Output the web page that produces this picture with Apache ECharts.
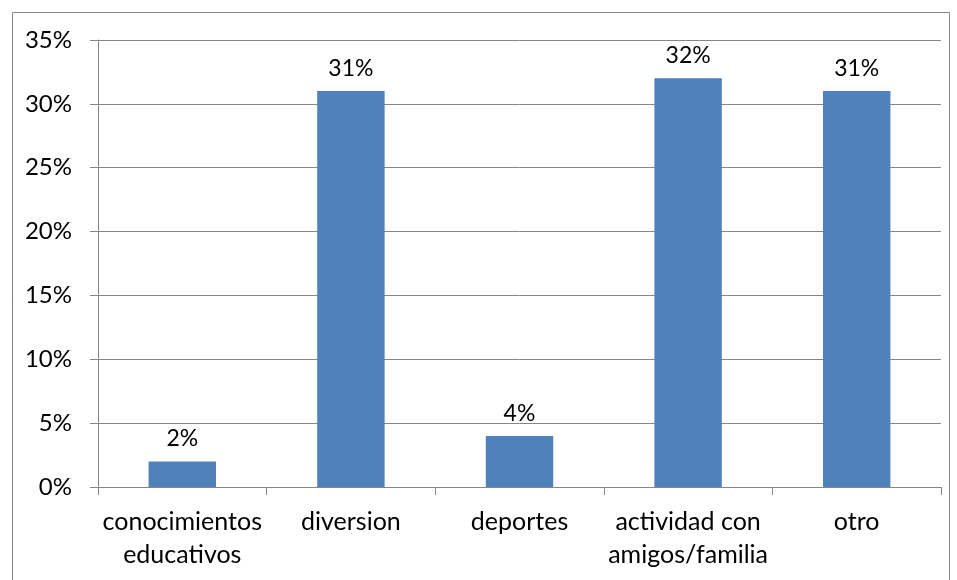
<!DOCTYPE html>
<html><head><meta charset="utf-8">
<script src="https://cdn.jsdelivr.net/npm/echarts@6/dist/echarts.min.js"></script>
<style>html,body{margin:0;padding:0;background:#fff}#c{width:957px;height:580px}</style>
</head><body><div id="c"></div>
<script>
const categories = ['conocimientos\neducativos', 'diversion', 'deportes', 'actividad con\namigos/familia', 'otro'];
const values = [2, 31, 4, 32, 31];
const yTicks = [0, 5, 10, 15, 20, 25, 30, 35];

const FONT = 'Lato';
const chart = echarts.init(document.getElementById('c'), null, {renderer: 'canvas'});
chart.setOption({
  animation: false,
  backgroundColor: '#fff',
  graphic: [{
    type: 'rect', left: 10, top: 10, silent: true,
    shape: {x: 0, y: 0, width: 937, height: 600},
    style: {fill: 'none', stroke: '#868686', lineWidth: 1}
  }],
  grid: {left: 98, right: 16, top: 40, bottom: 93, containLabel: false},
  xAxis: {
    type: 'category', data: categories,
    axisLine: {lineStyle: {color: '#868686', width: 1}},
    axisTick: {show: true, length: 8, alignWithLabel: false, lineStyle: {color: '#868686'}},
    axisLabel: {color: '#000', fontFamily: FONT, fontSize: 25, lineHeight: 33, margin: 18, interval: 0}
  },
  yAxis: {
    type: 'value', min: 0, max: 35, interval: 5,
    axisLine: {show: true, lineStyle: {color: '#868686', width: 1}},
    axisTick: {show: true, length: 8, lineStyle: {color: '#868686'}},
    splitLine: {lineStyle: {color: '#868686', width: 1}},
    axisLabel: {color: '#000', fontFamily: FONT, fontSize: 24, margin: 26,
      formatter: v => yTicks.includes(v) ? v + '%' : ''}
  },
  series: [{
    type: 'bar', data: values, barWidth: '40%',
    itemStyle: {color: '#4F81BD'},
    label: {show: true, position: 'top', distance: 11, color: '#000', fontFamily: FONT, fontSize: 23,
      formatter: p => p.value + '%'}
  }]
});
</script></body></html>
